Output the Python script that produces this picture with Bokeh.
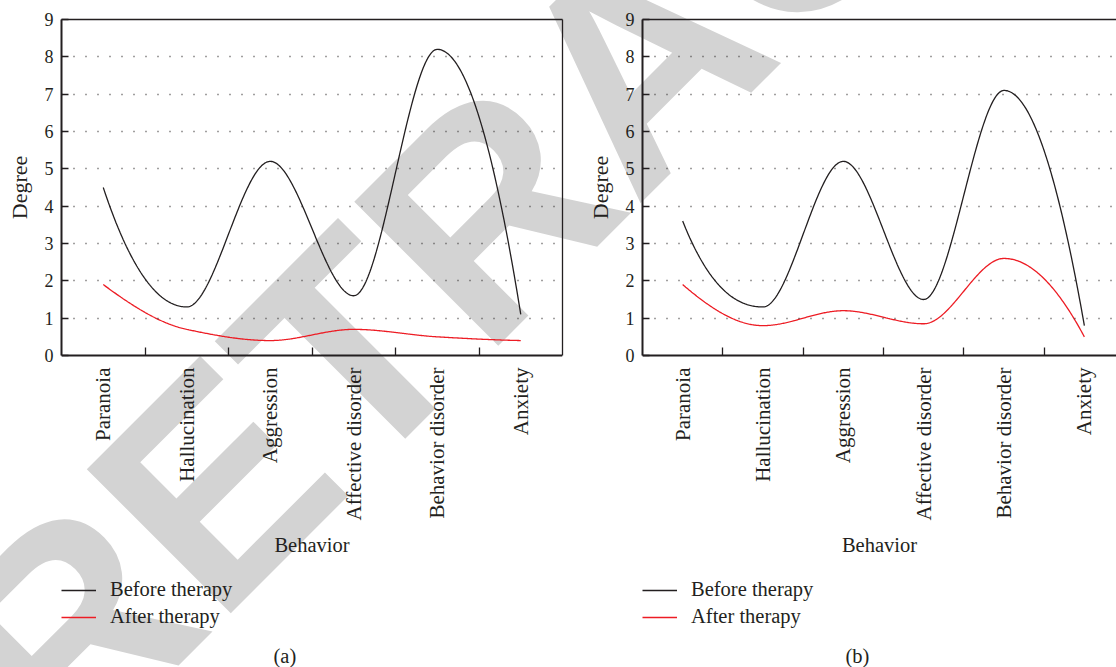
import numpy as np
from bokeh.plotting import figure
from bokeh.layouts import row
from bokeh.models import Range1d, FixedTicker, Legend, LegendItem, LinearAxis, Label
from bokeh.core.properties import value
from bokeh.embed import file_html
from bokeh.resources import INLINE

# ---------------- data ----------------
behaviors = ["Paranoia", "Hallucination", "Aggression",
             "Affective disorder", "Behavior disorder", "Anxiety"]
before_a = [4.5, 1.3, 5.2, 1.6, 8.2, 1.1]
after_a = [1.9, 0.7, 0.4, 0.7, 0.5, 0.4]
before_b = [3.6, 1.3, 5.2, 1.5, 7.1, 0.8]
after_b = [1.9, 0.8, 1.2, 0.85, 2.6, 0.5]
y_ticks = list(range(10))
series_names = ["Before therapy", "After therapy"]
series_colors = ["#231f20", "#ed1c24"]
captions = ["(a)", "(b)"]
x_axis_title = "Behavior"
y_axis_title = "Degree"
watermark = "RETRACTED"

TEXT = "#231f20"
SERIF = "Liberation Serif"
FS = "20.5px"
H = 667
TOP = 19            # top of plotting area (px)
AXIS_Y = 355        # pixel row of the value 0
PX_Y = (AXIS_Y - TOP) / (y_ticks[-1] - y_ticks[0])


def pchip(y, n=400):
    """Shape-preserving piecewise cubic Hermite curve through the points."""
    y = np.asarray(y, float)
    k = len(y)
    d = np.diff(y)
    m = np.zeros(k)
    for i in range(1, k - 1):
        if d[i - 1] * d[i] > 0:
            m[i] = 2.0 / (1.0 / d[i - 1] + 1.0 / d[i])

    def end(d0, d1):
        s = (3 * d0 - d1) / 2.0
        if np.sign(s) != np.sign(d0):
            return 0.0
        if np.sign(d0) != np.sign(d1) and abs(s) > abs(3 * d0):
            return 3 * d0
        return s
    m[0] = end(d[0], d[1])
    m[-1] = end(d[-1], d[-2])
    xs = np.linspace(0, k - 1, n)
    idx = np.clip(np.floor(xs).astype(int), 0, k - 2)
    t = xs - idx
    h00 = 2 * t ** 3 - 3 * t ** 2 + 1
    h10 = t ** 3 - 2 * t ** 2 + t
    h01 = -2 * t ** 3 + 3 * t ** 2
    h11 = t ** 3 - t ** 2
    ys = h00 * y[idx] + h10 * m[idx] + h01 * y[idx + 1] + h11 * m[idx + 1]
    return xs, ys


def make_panel(before, after, caption, canvas_left, width, bl, br, x_end,
               caption_x, ylabel_x, is_last):
    x_start = -0.5
    y_bottom = y_ticks[0] - (H - AXIS_Y) / PX_Y
    p = figure(width=width, height=H, x_range=Range1d(x_start, x_end),
               y_range=Range1d(y_bottom, y_ticks[-1]),
               output_backend="svg", toolbar_location=None,
               min_border_left=bl, min_border_right=br,
               min_border_top=TOP, min_border_bottom=0,
               background_fill_color="white", border_fill_color="white",
               outline_line_color=None)

    frame_left_page = canvas_left + bl
    frame_w = width - bl - br
    px_x = frame_w / (x_end - x_start)

    def page_to_data(X, Y):
        return (x_start + (X - frame_left_page) / px_x,
                y_ticks[-1] - (Y - TOP) / PX_Y)

    # retraction stamp drawn behind the chart, across the whole canvas
    wx, wy = page_to_data(638, 60)
    p.text(x=[wx], y=[wy], text=[watermark], angle=np.pi / 4,
           text_font=value("Liberation Sans"), text_font_style="bold",
           text_font_size=value("296px"), text_color="#d3d3d3",
           text_align="center", text_baseline="alphabetic", level="guide")

    # x axis drawn at value 0
    xa = p.xaxis[0]
    xa.fixed_location = y_ticks[0]
    xa.level = "overlay"
    xa.ticker = FixedTicker(ticks=list(range(len(behaviors))),
                            minor_ticks=[i + 0.5 for i in range(len(behaviors) - 1)])
    xa.major_label_overrides = {i: b for i, b in enumerate(behaviors)}
    xa.major_label_orientation = np.pi / 2
    xa.major_tick_line_color = None
    xa.minor_tick_in = 8
    xa.minor_tick_out = 0
    xa.minor_tick_line_color = TEXT
    xa.minor_tick_line_width = 1.3
    xa.axis_line_color = TEXT
    xa.axis_line_width = 2
    xa.major_label_text_font = SERIF
    xa.major_label_text_font_size = "21px"
    xa.major_label_text_color = TEXT
    xa.major_label_standoff = 6
    xa.axis_label = x_axis_title
    xa.axis_label_text_font = SERIF
    xa.axis_label_text_font_size = FS
    xa.axis_label_text_font_style = "normal"
    xa.axis_label_text_color = TEXT
    xa.axis_label_standoff = 11

    # y axis
    ya = p.yaxis[0]
    ya.level = "overlay"
    ya.bounds = (y_ticks[0], y_ticks[-1])
    ya.ticker = FixedTicker(ticks=y_ticks, minor_ticks=[])
    ya.major_tick_in = 7
    ya.major_tick_out = 0
    ya.major_tick_line_color = TEXT
    ya.major_tick_line_width = 1.3
    ya.axis_line_color = TEXT
    ya.axis_line_width = 2
    ya.major_label_text_font = SERIF
    ya.major_label_text_font_size = "18px"
    ya.major_label_text_color = TEXT
    ya.major_label_standoff = 8

    # y-axis title centred on the 0..9 span
    lx, ly = page_to_data(ylabel_x, (TOP + AXIS_Y) / 2)
    p.text(x=[lx], y=[ly], text=[y_axis_title], angle=np.pi / 2,
           text_font=value(SERIF), text_font_size=value("22px"), text_color=TEXT,
           text_align="center", text_baseline="middle", level="overlay")

    # frame borders (top, and right for the first panel)
    top = LinearAxis(ticker=FixedTicker(ticks=[]), axis_line_color=TEXT,
                     axis_line_width=1.5, major_tick_line_color=None,
                     minor_tick_line_color=None, level="overlay")
    p.add_layout(top, "above")
    if not is_last:
        right = LinearAxis(ticker=FixedTicker(ticks=[]), axis_line_color=TEXT,
                           axis_line_width=1.3, major_tick_line_color=None,
                           minor_tick_line_color=None, level="overlay",
                           bounds=(y_ticks[0], y_ticks[-1]))
        p.add_layout(right, "right")

    # grid
    p.xgrid.visible = False
    p.ygrid.level = "annotation"
    p.ygrid.ticker = FixedTicker(ticks=y_ticks[1:])
    p.ygrid.grid_line_color = TEXT
    p.ygrid.grid_line_dash = "1 11"
    p.ygrid.grid_line_width = 1.3
    p.ygrid.grid_line_alpha = 0.85

    items = []
    for vals, name, col in zip([before, after], series_names, series_colors):
        xs, ys = pchip(vals)
        r = p.line(xs, ys, line_color=col, line_width=1.3, level="annotation")
        items.append(LegendItem(label=name, renderers=[r]))

    leg = Legend(items=items, location=(0, 39), orientation="vertical",
                 padding=0, margin=0, spacing=4, glyph_width=35, glyph_height=20,
                 label_height=20, label_standoff=14,
                 label_text_font=SERIF, label_text_font_size=FS,
                 label_text_color=TEXT, border_line_color=None,
                 background_fill_alpha=0)
    p.add_layout(leg, "center")

    cx, cy = page_to_data(caption_x, 655)
    p.add_layout(Label(x=cx, y=cy, text=caption, text_font=SERIF,
                       text_font_size=FS, text_color=TEXT,
                       text_align="left", text_baseline="middle"))
    return p


pa = make_panel(before_a, after_a, captions[0], 0, 585, 61, 23, 5.5, 273, 19, False)
pb = make_panel(before_b, after_b, captions[1], 585, 531, 57, 0, 5.4, 845, 600, True)

layout = row(pa, pb)
open("out.html", "w").write(file_html(layout, INLINE))
